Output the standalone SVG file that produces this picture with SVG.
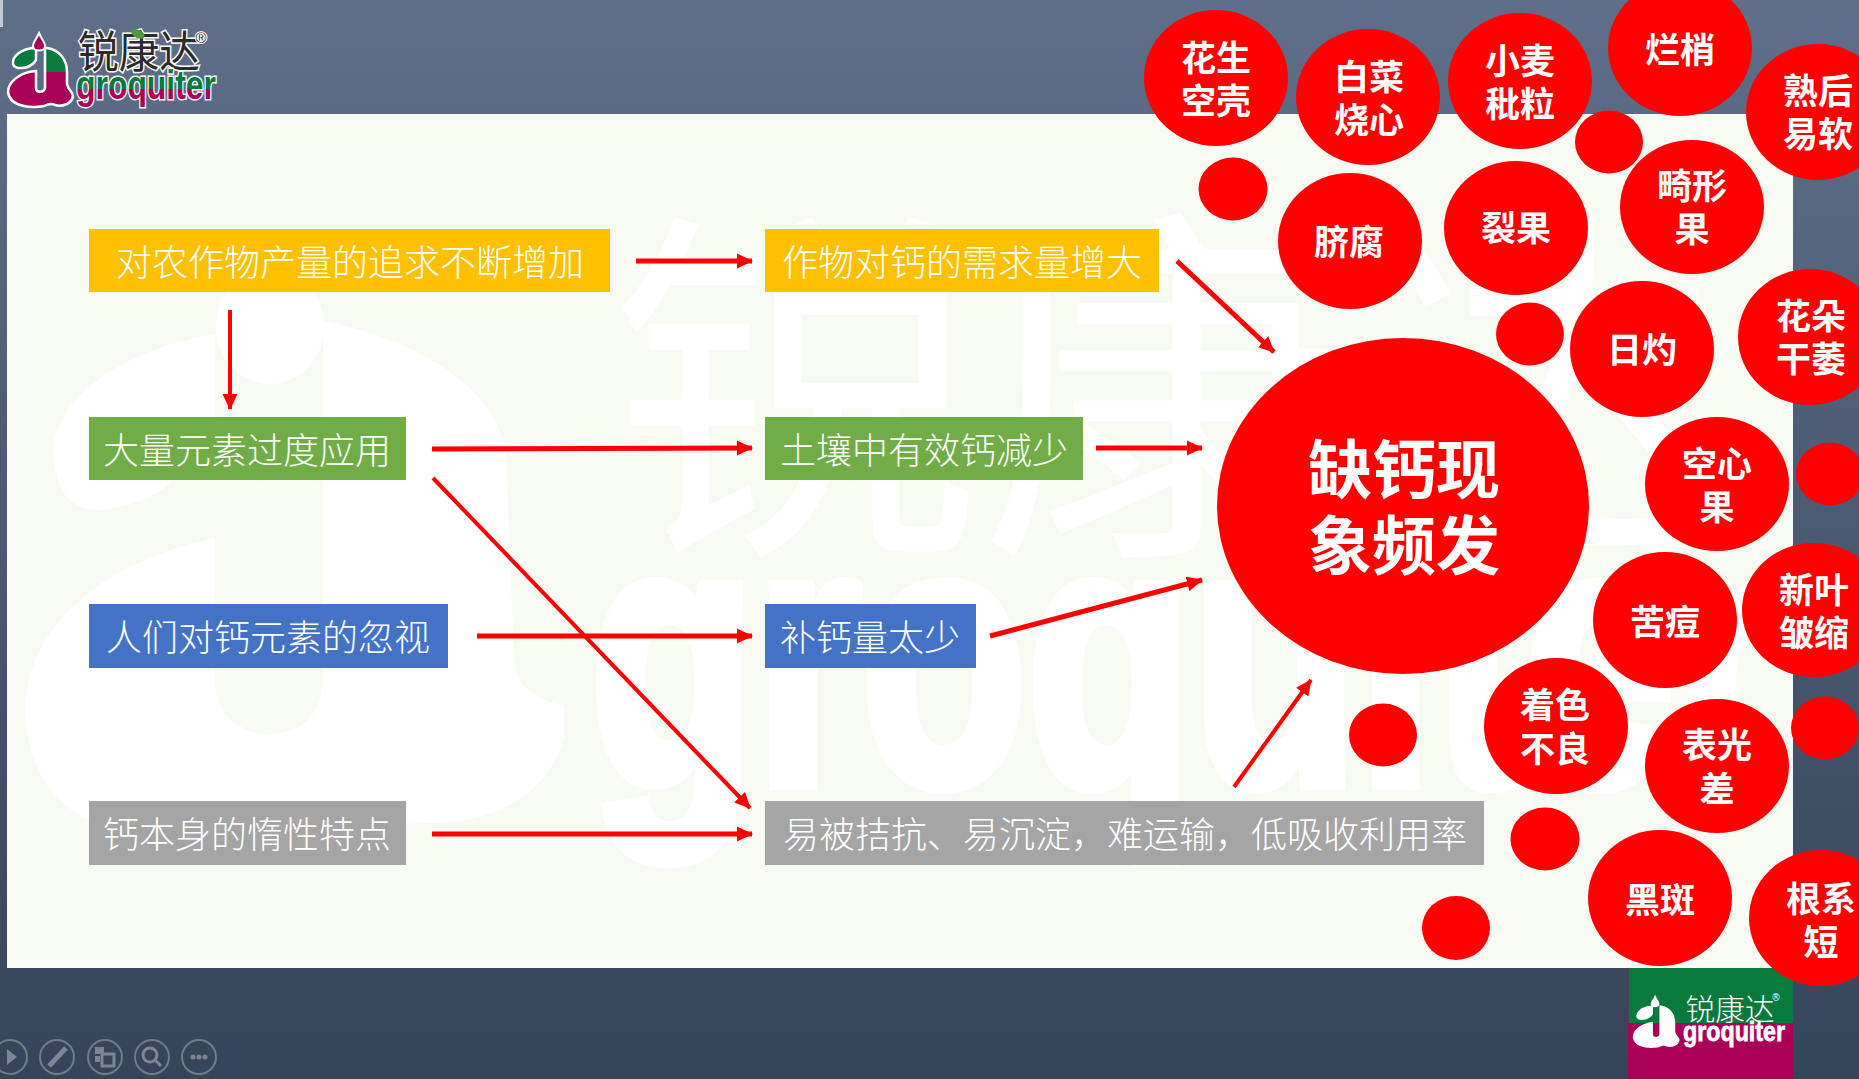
<svg xmlns="http://www.w3.org/2000/svg" width="1859" height="1079" viewBox="0 0 1859 1079">
<defs>
<linearGradient id="bg" x1="0" y1="0" x2="0" y2="1"><stop offset="0" stop-color="#5f6f89"/><stop offset="1" stop-color="#364459"/></linearGradient>
<linearGradient id="brand" gradientUnits="userSpaceOnUse" x1="0" y1="33" x2="0" y2="107"><stop offset="0.527" stop-color="#077a3c"/><stop offset="0.527" stop-color="#ab0058"/></linearGradient>
<linearGradient id="brandt" gradientUnits="userSpaceOnUse" x1="0" y1="74" x2="0" y2="104"><stop offset="0.5" stop-color="#077a3c"/><stop offset="0.5" stop-color="#ab0058"/></linearGradient>
<marker id="ah" markerWidth="18" markerHeight="16" refX="15" refY="8" orient="auto" markerUnits="userSpaceOnUse"><path d="M0 0.500L16 8L0 15.500Z" fill="#f00"/></marker>
<clipPath id="panel"><rect x="7" y="114" width="1786" height="854"/></clipPath>
<path id="a-main" d="M47 48C60 50 67 60 67 72L67 84C68 90 73 92 73 96C72 104 62 107 55 105C52 103 48 104 44 106C34 108 10 108 8 92C8 82 20 72 36 71L36 88C36 93 44 93 45 88L45 48Z"/>
<path id="a-lobe" d="M36 48C22 48 12 56 13 64C14 70 30 70 36 60Z"/>
<path id="a-drop" d="M39 33C36 40 33 42 33 46C33 52 45 52 45 46C45 42 42 40 39 33Z"/>
</defs>
<style>
.t{font-family:"Noto Sans CJK SC","Liberation Sans",sans-serif;fill:#fff;text-anchor:middle}
.l{font-size:36px;font-weight:300}
.c{font-size:35px;font-weight:700}
.big{font-size:64px;font-weight:700}
.bub{fill:#f00}
.conn line{stroke:#f00;stroke-width:5;marker-end:url(#ah)}
.conn line.d{stroke-width:4}
.ic{fill:none;stroke:#6f7a8c;stroke-width:2}
.if{fill:#7c8696}
.st{stroke:#7c8696;fill:none;stroke-width:3}
.cn{font-family:"Noto Sans CJK SC",sans-serif;text-anchor:middle}
.en{font-family:"Liberation Sans",sans-serif;font-weight:700;text-anchor:middle}
</style>
<rect width="1859" height="1079" fill="url(#bg)"/>
<rect x="0" y="0" width="3" height="27" fill="#c4c9d2"/>
<rect x="7" y="114" width="1786" height="854" fill="#f8fbf4"/>
<g id="watermark" clip-path="url(#panel)" fill="#fff">
<path d="M215 334C120 350 54 400 54 451C54 490 70 510 100 510C140 505 170 490 174 476C200 460 215 440 215 410Z"/>
<ellipse cx="270" cy="326" rx="54" ry="58"/>
<path d="M323 321C420 340 500 390 506 456L514 660C516 690 540 700 564 706L564 737C550 790 500 823 431 823L130 830C60 825 25 770 25 706C30 620 110 560 215 538L215 680C215 715 240 734 270 734C300 734 323 715 323 680Z"/>
<text x="610" y="527" font-family="Noto Sans CJK SC,sans-serif" font-size="370">锐康达</text>
<text x="1185" y="783" class="en" font-size="370" stroke="#fff" stroke-width="14" textLength="1190" lengthAdjust="spacingAndGlyphs">groquiter</text>
</g>
<g id="logo-top">
<g fill="url(#brand)" stroke="#fff" stroke-width="2.500"><use href="#a-main"/><use href="#a-lobe"/></g>
<use href="#a-drop" fill="#ab0058" stroke="#fff" stroke-width="2"/>
<text class="cn" x="139" y="68" font-size="44" fill="#2d2a2a" stroke="#fff" stroke-width="3" paint-order="stroke" textLength="122" lengthAdjust="spacingAndGlyphs">锐康达</text>
<ellipse cx="138" cy="34" rx="7" ry="4" fill="#4f9a35" transform="rotate(25 138 34)"/>
<text x="201" y="43" font-family="Liberation Sans,sans-serif" font-size="15" fill="#2d2a2a" stroke="#fff" stroke-width="2" paint-order="stroke" text-anchor="middle">®</text>
<text class="en" x="146" y="99" font-size="40" fill="url(#brandt)" stroke="#fff" stroke-width="3" paint-order="stroke" textLength="140" lengthAdjust="spacingAndGlyphs">groquiter</text>
</g>
<g id="logo-bottom">
<rect x="1629" y="968" width="164" height="55" fill="#077a3c"/>
<rect x="1628" y="1023" width="165" height="56" fill="#ab0058"/>
<g fill="#fff" transform="translate(1627 971) scale(.72)"><use href="#a-main"/><use href="#a-lobe"/><use href="#a-drop"/></g>
<text class="cn" x="1730" y="1020" font-size="30" fill="#fff" font-weight="300" textLength="89" lengthAdjust="spacingAndGlyphs">锐康达</text>
<text x="1776" y="1001" font-family="Liberation Sans,sans-serif" font-size="10" fill="#fff" text-anchor="middle">®</text>
<text class="en" x="1734" y="1041" font-size="28" fill="#fff" stroke="#fff" stroke-width=".8" textLength="102" lengthAdjust="spacingAndGlyphs">groquiter</text>
</g>
<g id="toolbar">
<circle cx="10" cy="1057" r="17" class="ic"/><path d="M7 1049L17 1057L7 1065Z" class="if"/>
<circle cx="57" cy="1057" r="17" class="ic"/><path d="M49 1066L66 1048" stroke="#7c8696" stroke-width="5"/>
<circle cx="105" cy="1057" r="17" class="ic"/><rect x="95" y="1047" width="9" height="7" class="if"/><rect x="95" y="1056" width="5" height="6" class="if"/><rect x="102" y="1054" width="12" height="12" class="st"/>
<circle cx="152" cy="1057" r="17" class="ic"/><circle cx="150" cy="1055" r="7" class="st"/><path d="M155 1060L161 1066" class="st"/>
<circle cx="199" cy="1057" r="17" class="ic"/><circle cx="193" cy="1057" r="2.500" class="if"/><circle cx="199" cy="1057" r="2.500" class="if"/><circle cx="205" cy="1057" r="2.500" class="if"/>
</g>
<g id="n1"><rect x="89" y="229" width="521" height="63" fill="#ffc000"/><text class="t l" x="350" y="276">对农作物产量的追求不断增加</text></g>
<g id="n2"><rect x="765" y="229" width="394" height="63" fill="#ffc000"/><text class="t l" x="962" y="276">作物对钙的需求量增大</text></g>
<g id="n3"><rect x="89" y="417" width="317" height="63" fill="#70ad47"/><text class="t l" x="247" y="464">大量元素过度应用</text></g>
<g id="n4"><rect x="765" y="417" width="318" height="63" fill="#70ad47"/><text class="t l" x="924" y="464">土壤中有效钙减少</text></g>
<g id="n5"><rect x="89" y="604" width="359" height="64" fill="#4472c4"/><text class="t l" x="268" y="651">人们对钙元素的忽视</text></g>
<g id="n6"><rect x="765" y="604" width="211" height="64" fill="#4472c4"/><text class="t l" x="870" y="651">补钙量太少</text></g>
<g id="n7"><rect x="89" y="801" width="317" height="64" fill="#a5a5a5"/><text class="t l" x="247" y="848">钙本身的惰性特点</text></g>
<g id="n8"><rect x="765" y="801" width="719" height="64" fill="#a5a5a5"/><text class="t l" x="1125" y="848">易被拮抗、易沉淀，难运输，低吸收利用率</text></g>
<g id="connectors" class="conn">
<line x1="636" y1="261" x2="752" y2="261"/>
<line class="d" x1="230" y1="310" x2="230" y2="409"/>
<line x1="432" y1="449" x2="752" y2="448"/>
<line x1="1096" y1="448" x2="1202" y2="448"/>
<line x1="1177" y1="261" x2="1274" y2="352"/>
<line class="d" x1="433" y1="478" x2="750" y2="808"/>
<line x1="477" y1="636" x2="752" y2="636"/>
<line x1="990" y1="636" x2="1202" y2="580"/>
<line x1="432" y1="834" x2="752" y2="834"/>
<line class="d" x1="1234" y1="787" x2="1311" y2="680"/>
</g>
<g id="center"><ellipse class="bub" cx="1403" cy="506" rx="186" ry="168"/><text class="t big" x="1404" y="493">缺钙现</text><text class="t big" x="1404" y="569">象频发</text></g>
<g id="c1"><ellipse class="bub" cx="1216" cy="78" rx="72" ry="68"/><text class="t c" x="1216" y="71">花生</text><text class="t c" x="1216" y="114">空壳</text></g>
<g id="c2"><ellipse class="bub" cx="1368" cy="97" rx="72" ry="68"/><text class="t c" x="1369" y="90">白菜</text><text class="t c" x="1369" y="133">烧心</text></g>
<g id="c3"><ellipse class="bub" cx="1520" cy="81" rx="72" ry="68"/><text class="t c" x="1520" y="74">小麦</text><text class="t c" x="1520" y="117">秕粒</text></g>
<g id="c4"><ellipse class="bub" cx="1680" cy="48" rx="72" ry="68"/><text class="t c" x="1680" y="63">烂梢</text></g>
<g id="c5"><ellipse class="bub" cx="1818" cy="112" rx="72" ry="68"/><text class="t c" x="1818" y="104">熟后</text><text class="t c" x="1818" y="147">易软</text></g>
<g id="c6"><ellipse class="bub" cx="1350" cy="241" rx="72" ry="68"/><text class="t c" x="1349" y="255">脐腐</text></g>
<g id="c7"><ellipse class="bub" cx="1516" cy="228" rx="72" ry="67"/><text class="t c" x="1516" y="241">裂果</text></g>
<g id="c8"><ellipse class="bub" cx="1692" cy="207" rx="72" ry="67"/><text class="t c" x="1692" y="199">畸形</text><text class="t c" x="1692" y="242">果</text></g>
<g id="c9"><ellipse class="bub" cx="1642" cy="349" rx="72" ry="68"/><text class="t c" x="1642" y="363">日灼</text></g>
<g id="c10"><ellipse class="bub" cx="1810" cy="337" rx="72" ry="68"/><text class="t c" x="1811" y="329">花朵</text><text class="t c" x="1811" y="372">干萎</text></g>
<g id="c11"><ellipse class="bub" cx="1717" cy="484" rx="72" ry="67"/><text class="t c" x="1717" y="477">空心</text><text class="t c" x="1717" y="520">果</text></g>
<g id="c12"><ellipse class="bub" cx="1665" cy="620" rx="72" ry="68"/><text class="t c" x="1665" y="635">苦痘</text></g>
<g id="c13"><ellipse class="bub" cx="1814" cy="610" rx="72" ry="67"/><text class="t c" x="1814" y="603">新叶</text><text class="t c" x="1814" y="646">皱缩</text></g>
<g id="c14"><ellipse class="bub" cx="1556" cy="726" rx="72" ry="68"/><text class="t c" x="1555" y="718">着色</text><text class="t c" x="1555" y="762">不良</text></g>
<g id="c15"><ellipse class="bub" cx="1717" cy="766" rx="72" ry="67"/><text class="t c" x="1717" y="758">表光</text><text class="t c" x="1717" y="802">差</text></g>
<g id="c16"><ellipse class="bub" cx="1660" cy="898" rx="72" ry="68"/><text class="t c" x="1660" y="913">黑斑</text></g>
<g id="c17"><ellipse class="bub" cx="1821" cy="918" rx="72" ry="68"/><text class="t c" x="1821" y="912">根系</text><text class="t c" x="1821" y="955">短</text></g>
<g id="dots">
<ellipse class="bub" cx="1233" cy="189" rx="34.500" ry="31.500"/>
<ellipse class="bub" cx="1609" cy="142" rx="34" ry="31.500"/>
<ellipse class="bub" cx="1530" cy="334" rx="34" ry="31.500"/>
<ellipse class="bub" cx="1830" cy="474" rx="34" ry="31.500"/>
<ellipse class="bub" cx="1383" cy="735" rx="34" ry="31.500"/>
<ellipse class="bub" cx="1825" cy="728" rx="34" ry="31.500"/>
<ellipse class="bub" cx="1545" cy="839" rx="34.500" ry="31.500"/>
<ellipse class="bub" cx="1456" cy="928" rx="34" ry="32"/>
</g>
</svg>
